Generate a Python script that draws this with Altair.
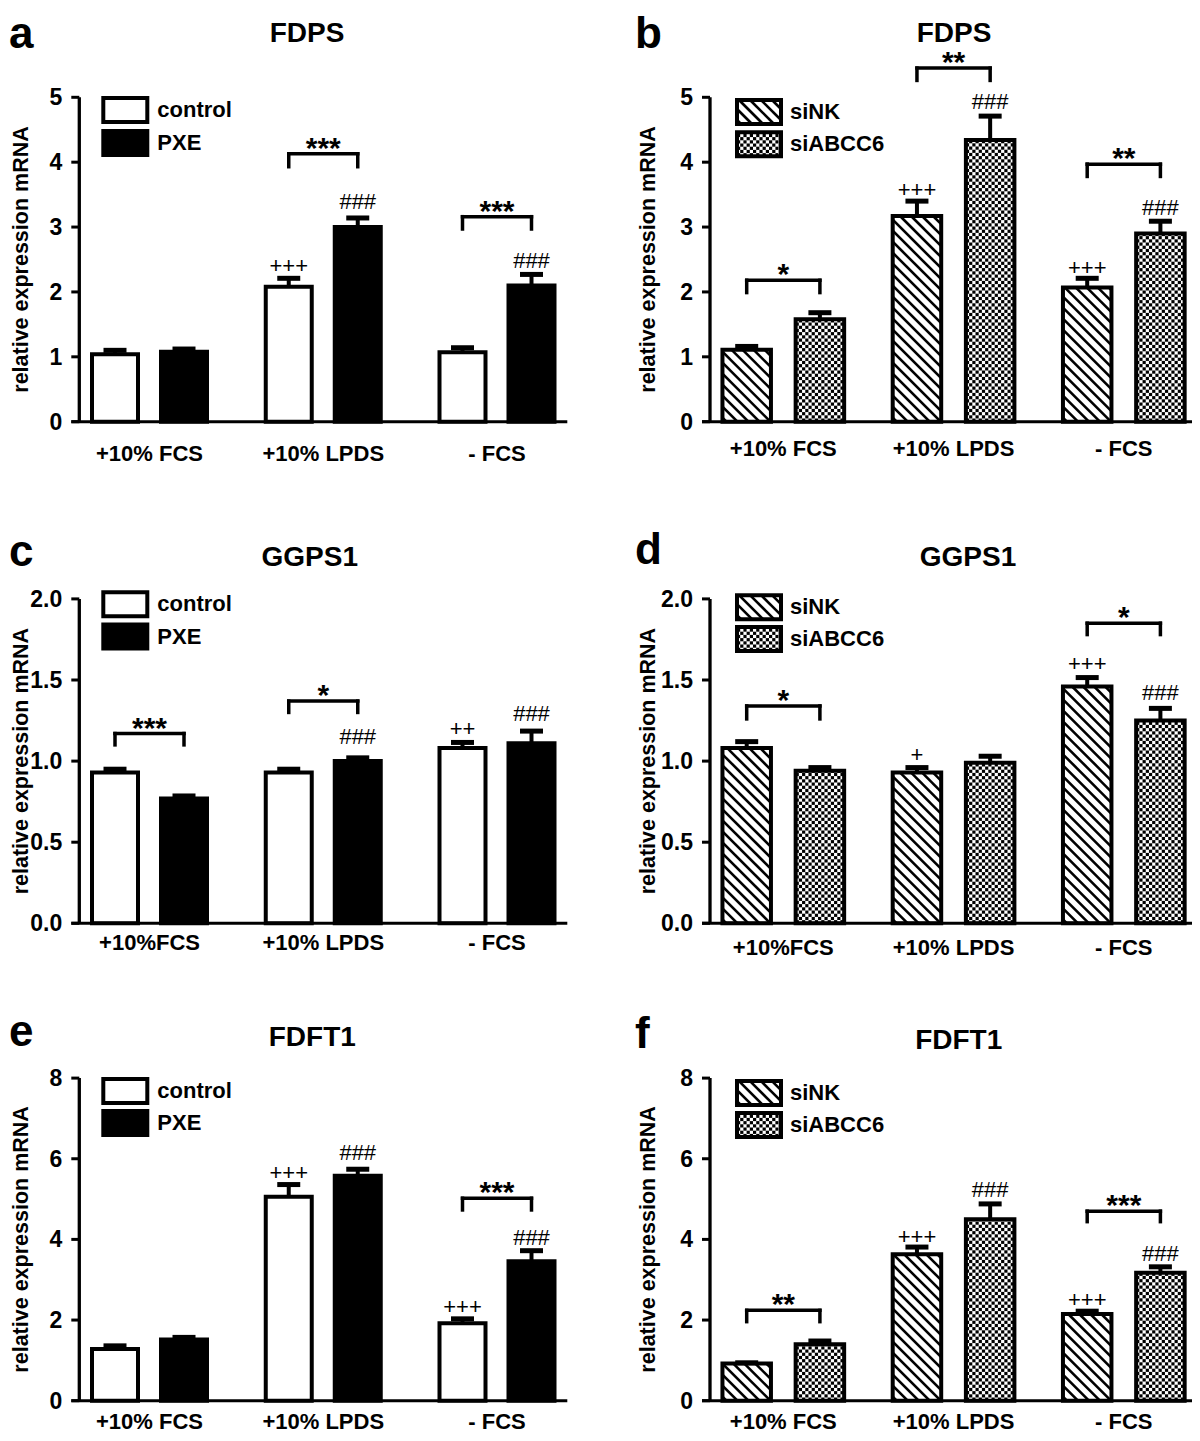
import math
import altair as alt
import pandas as pd

FONT = "Liberation Sans"

# ---------------- data ----------------
CATS_1 = ["+10% FCS", "+10% LPDS", "- FCS"]
CATS_2 = ["+10%FCS", "+10% LPDS", "- FCS"]
SERIES_PXE = ["control", "PXE"]
SERIES_SI = ["siNK", "siABCC6"]
TICKS_5 = [0, 1, 2, 3, 4, 5]
TICKLAB_5 = ["0", "1", "2", "3", "4", "5"]
TICKS_2 = [0.0, 0.5, 1.0, 1.5, 2.0]
TICKLAB_2 = ["0.0", "0.5", "1.0", "1.5", "2.0"]
TICKS_8 = [0, 2, 4, 6, 8]
TICKLAB_8 = ["0", "2", "4", "6", "8"]

# a  FDPS  control / PXE
a_s1 = [1.04, 2.08, 1.07]
a_e1 = [0.06, 0.13, 0.07]
a_s2 = [1.08, 3.00, 2.10]
a_e2 = [0.04, 0.14, 0.17]
a_br_group = [1, 2]
a_br_y = [4.13, 3.16]
a_br_low = [3.93, 2.97]
a_br_txt = ["***", "***"]
a_ann_group = [1, 1, 2]
a_ann_series = [0, 1, 1]
a_ann_txt = ["+++", "###", "###"]
a_ann_y = [2.40, 3.38, 2.47]

# b  FDPS  siNK / siABCC6
b_s1 = [1.11, 3.17, 2.07]
b_e1 = [0.05, 0.23, 0.14]
b_s2 = [1.58, 4.34, 2.90]
b_e2 = [0.10, 0.37, 0.19]
b_br_group = [0, 1, 2]
b_br_y = [2.18, 5.45, 3.97]
b_br_low = [1.99, 5.26, 3.78]
b_br_txt = ["*", "**", "**"]
b_ann_group = [1, 1, 2, 2]
b_ann_series = [0, 1, 0, 1]
b_ann_txt = ["+++", "###", "+++", "###"]
b_ann_y = [3.57, 4.93, 2.37, 3.29]

# c  GGPS1  control / PXE
c_s1 = [0.93, 0.93, 1.08]
c_e1 = [0.02, 0.02, 0.035]
c_s2 = [0.77, 1.00, 1.11]
c_e2 = [0.015, 0.02, 0.075]
c_br_group = [0, 1]
c_br_y = [1.17, 1.37]
c_br_low = [1.10, 1.30]
c_br_txt = ["***", "*"]
c_ann_group = [1, 2, 2]
c_ann_series = [1, 0, 1]
c_ann_txt = ["###", "++", "###"]
c_ann_y = [1.15, 1.20, 1.29]

# d  GGPS1  siNK / siABCC6
d_s1 = [1.08, 0.93, 1.46]
d_e1 = [0.04, 0.03, 0.055]
d_s2 = [0.94, 0.99, 1.25]
d_e2 = [0.02, 0.04, 0.075]
d_br_group = [0, 2]
d_br_y = [1.34, 1.85]
d_br_low = [1.26, 1.78]
d_br_txt = ["*", "*"]
d_ann_group = [1, 2, 2]
d_ann_series = [0, 0, 1]
d_ann_txt = ["+", "+++", "###"]
d_ann_y = [1.04, 1.60, 1.42]

# e  FDFT1  control / PXE
e_s1 = [1.28, 5.06, 1.92]
e_e1 = [0.08, 0.30, 0.11]
e_s2 = [1.52, 5.58, 3.46]
e_e2 = [0.05, 0.16, 0.26]
e_br_group = [2]
e_br_y = [5.02]
e_br_low = [4.73]
e_br_txt = ["***"]
e_ann_group = [1, 1, 2, 2]
e_ann_series = [0, 1, 0, 1]
e_ann_txt = ["+++", "###", "+++", "###"]
e_ann_y = [5.64, 6.14, 2.32, 4.04]

# f  FDFT1  siNK / siABCC6
f_s1 = [0.92, 3.63, 2.15]
f_e1 = [0.02, 0.18, 0.07]
f_s2 = [1.40, 4.50, 3.17]
f_e2 = [0.08, 0.38, 0.15]
f_br_group = [0, 2]
f_br_y = [2.24, 4.70]
f_br_low = [1.96, 4.44]
f_br_txt = ["**", "***"]
f_ann_group = [1, 1, 2, 2]
f_ann_series = [0, 1, 0, 1]
f_ann_txt = ["+++", "###", "+++", "###"]
f_ann_y = [4.06, 5.23, 2.49, 3.65]

PANELS = [
    dict(letter="a", title="FDPS", kind="L", row=1, cats=CATS_1, series=SERIES_PXE,
         s1=a_s1, e1=a_e1, s2=a_s2, e2=a_e2, ymax=5, ticks=TICKS_5, ticklab=TICKLAB_5,
         brg=a_br_group, bry=a_br_y, brl=a_br_low, brt=a_br_txt,
         ang=a_ann_group, ans=a_ann_series, ant=a_ann_txt, any=a_ann_y),
    dict(letter="b", title="FDPS", kind="R", row=1, cats=CATS_1, series=SERIES_SI,
         s1=b_s1, e1=b_e1, s2=b_s2, e2=b_e2, ymax=5, ticks=TICKS_5, ticklab=TICKLAB_5,
         brg=b_br_group, bry=b_br_y, brl=b_br_low, brt=b_br_txt,
         ang=b_ann_group, ans=b_ann_series, ant=b_ann_txt, any=b_ann_y),
    dict(letter="c", title="GGPS1", kind="L", row=2, cats=CATS_2, series=SERIES_PXE,
         s1=c_s1, e1=c_e1, s2=c_s2, e2=c_e2, ymax=2.0, ticks=TICKS_2, ticklab=TICKLAB_2,
         brg=c_br_group, bry=c_br_y, brl=c_br_low, brt=c_br_txt,
         ang=c_ann_group, ans=c_ann_series, ant=c_ann_txt, any=c_ann_y),
    dict(letter="d", title="GGPS1", kind="R", row=2, cats=CATS_2, series=SERIES_SI,
         s1=d_s1, e1=d_e1, s2=d_s2, e2=d_e2, ymax=2.0, ticks=TICKS_2, ticklab=TICKLAB_2,
         brg=d_br_group, bry=d_br_y, brl=d_br_low, brt=d_br_txt,
         ang=d_ann_group, ans=d_ann_series, ant=d_ann_txt, any=d_ann_y),
    dict(letter="e", title="FDFT1", kind="L", row=3, cats=CATS_1, series=SERIES_PXE,
         s1=e_s1, e1=e_e1, s2=e_s2, e2=e_e2, ymax=8, ticks=TICKS_8, ticklab=TICKLAB_8,
         brg=e_br_group, bry=e_br_y, brl=e_br_low, brt=e_br_txt,
         ang=e_ann_group, ans=e_ann_series, ant=e_ann_txt, any=e_ann_y),
    dict(letter="f", title="FDFT1", kind="R", row=3, cats=CATS_1, series=SERIES_SI,
         s1=f_s1, e1=f_e1, s2=f_s2, e2=f_e2, ymax=8, ticks=TICKS_8, ticklab=TICKLAB_8,
         brg=f_br_group, bry=f_br_y, brl=f_br_low, brt=f_br_txt,
         ang=f_ann_group, ans=f_ann_series, ant=f_ann_txt, any=f_ann_y),
]

# ---------------- layout / style ----------------
SIDE = {
    "L": dict(W=488, c0=70.2, sp=173.75, off=34.5, bw=46.0, legx=24.0, legtx=78.0, yt=-51.5),
    "R": dict(W=487, c0=73.3, sp=170.25, off=36.6, bw=48.5, legx=27.0, legtx=80.0, yt=-55.0),
}
ROW = {1: dict(H=324.4, extra=0.0), 2: dict(H=346.6, extra=22.2), 3: dict(H=322.6, extra=0.0)}
POS = {
    "a": dict(lx=-70.3, ly=-49.3, tx=227.7, ty=-55.3, leg=[0.7, 33.7], lab=39.0),
    "b": dict(lx=-75.0, ly=-49.3, tx=244.0, ty=-55.3, leg=[2.7, 35.0], lab=34.0),
    "c": dict(lx=-70.3, ly=-33.3, tx=230.5, ty=-33.3, leg=[-6.6, 25.7], lab=27.0),
    "d": dict(lx=-75.0, ly=-35.3, tx=258.0, ty=-33.3, leg=[-3.7, 28.0], lab=31.7),
    "e": dict(lx=-70.3, ly=-32.0, tx=233.0, ty=-32.0, leg=[1.0, 33.0], lab=28.0),
    "f": dict(lx=-75.0, ly=-30.0, tx=248.7, ty=-29.0, leg=[3.0, 35.0], lab=28.0),
}
HATCH_D = 11.0
CELL = 3.2


def hatch_px(ua, ub, wa, wb, d=HATCH_D):
    segs = []
    h = wb - wa
    s = ua + 4.0
    while s < ub + h:
        u1 = max(ua, s - h)
        u2 = min(ub, s)
        if u2 - u1 > 0.3:
            segs.append((u1, wa + s - u1, u2, wa + s - u2))
        s += d
    return segs


def checker_px(ua, ub, wa, wb, c=CELL):
    out = []
    ncol = int(math.ceil((ub - ua) / c - 1e-9))
    nrow = int(math.ceil((wb - wa) / c - 1e-9))
    for i in range(ncol):
        for j in range(nrow):
            if (i + j) % 2 == 0:
                out.append((ua + i * c, wa + j * c, min(ua + (i + 1) * c, ub), min(wa + (j + 1) * c, wb)))
    return out


ONE = pd.DataFrame({"d": [0]})


def build(p):
    side = SIDE[p["kind"]]
    row = ROW[p["row"]]
    pos = POS[p["letter"]]
    W, H, extra = side["W"], row["H"], row["extra"]
    sp, c0 = side["sp"], side["c0"]
    xlo, xhi = -c0 / sp, (W - c0) / sp
    ky = (H - extra) / p["ymax"]
    ydom = H / ky
    xs = alt.Scale(domain=[xlo, xhi], nice=False, zero=False)
    ys = alt.Scale(domain=[0, ydom], nice=False, zero=False)
    off = side["off"] / sp
    hw = side["bw"] / 2 / sp
    cap = 11.5 / sp
    left = p["kind"] == "L"

    def xd(u):
        return round(xlo + u / sp, 5)

    def yd(w):
        return round(w / ky, 5)

    def X(f):
        return alt.X(f, type="quantitative", scale=xs, axis=None)

    def Y(f):
        return alt.Y(f, type="quantitative", scale=ys, axis=None)

    # bars
    rows = []
    for k, (vals, errs) in enumerate([(p["s1"], p["e1"]), (p["s2"], p["e2"])]):
        for g in range(3):
            xc = g + (2 * k - 1) * off
            rows.append(dict(g=g, k=k, xc=xc, x0=xc - hw, x1=xc + hw, v=vals[g],
                             top=vals[g] + errs[g], cl=xc - cap, cr=xc + cap, base=0.0,
                             fill=("black" if (left and k == 1) else "white")))
    bars = pd.DataFrame(rows)

    # legend boxes (pixel positions inside the panel)
    leg_boxes = []
    for t in pos["leg"]:
        y1 = extra + t
        leg_boxes.append((side["legx"], y1, side["legx"] + 44.0, y1 + 24.0))

    # patterns for the siRNA panels (bars + legend boxes)
    hatch_rows, cell_rows = [], []
    if not left:
        rects = []
        for _, r in bars.iterrows():
            rects.append((int(r.k), (r.x0 - xlo) * sp, (r.x1 - xlo) * sp, 0.0, r.v * ky))
        for i, (bx1, by1, bx2, by2) in enumerate(leg_boxes):
            rects.append((i, bx1, bx2, H - by2, H - by1))
        for k, ua, ub, wa, wb in rects:
            if k == 0:
                for s in hatch_px(ua, ub, wa, wb):
                    hatch_rows.append(dict(xa=xd(s[0]), ya=yd(s[1]), xb=xd(s[2]), yb=yd(s[3])))
            else:
                for c in checker_px(ua, ub, wa, wb):
                    cell_rows.append(dict(xa=xd(c[0]), ya=yd(c[1]), xb=xd(c[2]), yb=yd(c[3])))

    # brackets
    br = pd.DataFrame(dict(g=p["brg"], yl=p["bry"], ylow=p["brl"], txt=p["brt"]))
    br["xl"] = br["g"] - off
    br["xr"] = br["g"] + off
    br_v = pd.concat([br.assign(x=br["xl"]), br.assign(x=br["xr"])], ignore_index=True)

    ann = pd.DataFrame(dict(g=p["ang"], k=p["ans"], txt=p["ant"], y=p["any"]))
    ann["xc"] = ann["g"] + (2 * ann["k"] - 1) * off

    axl = pd.DataFrame({"y0": [0.0], "y1": [float(p["ymax"])]})
    yt = pd.DataFrame({"tv": p["ticks"], "lab": p["ticklab"]})
    xt = pd.DataFrame({"g": [0, 1, 2], "lab": p["cats"]})

    layers = []
    layers.append(alt.Chart(bars).mark_rect(stroke="black", strokeWidth=4).encode(
        x=X("x0"), x2="x1", y=Y("base"), y2="v", fill=alt.Fill("fill:N", scale=None)))
    # legend boxes (fill + outline)
    fills = ["white", "black"] if left else ["white", "white"]
    for i, (bx1, by1, bx2, by2) in enumerate(leg_boxes):
        layers.append(alt.Chart(ONE).mark_rect(fill=fills[i], stroke="black", strokeWidth=4).encode(
            x=alt.value(bx1), x2=alt.value(bx2), y=alt.value(by1), y2=alt.value(by2)))
        layers.append(alt.Chart(ONE).mark_text(text=p["series"][i], font=FONT, fontSize=22, fontWeight="bold",
                                               align="left", baseline="middle", color="black").encode(
            x=alt.value(side["legtx"]), y=alt.value((by1 + by2) / 2)))
    if hatch_rows:
        layers.append(alt.Chart(pd.DataFrame(hatch_rows)).mark_rule(color="black", strokeWidth=2.6).encode(
            x=X("xa"), x2="xb", y=Y("ya"), y2="yb"))
    if cell_rows:
        layers.append(alt.Chart(pd.DataFrame(cell_rows)).mark_rect(color="black", strokeWidth=0).encode(
            x=X("xa"), x2="xb", y=Y("ya"), y2="yb"))
    # error bars
    layers.append(alt.Chart(bars).mark_rule(color="black", strokeWidth=4).encode(
        x=X("xc"), y=Y("v"), y2="top"))
    layers.append(alt.Chart(bars).mark_rule(color="black", strokeWidth=5).encode(
        x=X("cl"), x2="cr", y=Y("top")))
    # significance brackets
    layers.append(alt.Chart(br).mark_rule(color="black", strokeWidth=3.5, strokeCap="square").encode(
        x=X("xl"), x2="xr", y=Y("yl")))
    layers.append(alt.Chart(br_v).mark_rule(color="black", strokeWidth=3.5, strokeCap="square").encode(
        x=X("x"), y=Y("ylow"), y2="yl"))
    layers.append(alt.Chart(br).mark_text(font=FONT, fontSize=30, fontWeight="bold", baseline="middle",
                                          dy=-5, color="black").encode(
        x=X("g"), y=Y("yl"), text="txt:N"))
    layers.append(alt.Chart(ann).mark_text(font=FONT, fontSize=22, baseline="middle", color="black").encode(
        x=X("xc"), y=Y("y"), text="txt:N"))
    # axes
    layers.append(alt.Chart(axl).mark_rule(color="black", strokeWidth=3.3).encode(
        x=alt.value(0), y=Y("y0"), y2="y1"))
    layers.append(alt.Chart(axl).mark_rule(color="black", strokeWidth=3).encode(
        x=alt.value(-8), x2=alt.value(W), y=Y("y0")))
    layers.append(alt.Chart(yt).mark_rule(color="black", strokeWidth=3).encode(
        x=alt.value(-8), x2=alt.value(0), y=Y("tv")))
    layers.append(alt.Chart(yt).mark_text(font=FONT, fontSize=23, fontWeight="bold", align="right",
                                          baseline="middle", dy=1, color="black").encode(
        x=alt.value(-17), y=Y("tv"), text="lab:N"))
    layers.append(alt.Chart(xt).mark_text(font=FONT, fontSize=22, fontWeight="bold", align="center",
                                          baseline="alphabetic", color="black").encode(
        x=X("g"), y=alt.value(H + pos["lab"]), text="lab:N"))
    # letter, title, y title
    layers.append(alt.Chart(ONE).mark_text(text=p["letter"], font=FONT, fontSize=44, fontWeight="bold",
                                           align="left", baseline="alphabetic", color="black").encode(
        x=alt.value(pos["lx"]), y=alt.value(extra + pos["ly"])))
    layers.append(alt.Chart(ONE).mark_text(text=p["title"], font=FONT, fontSize=28, fontWeight="bold",
                                           align="center", baseline="alphabetic", color="black").encode(
        x=alt.value(pos["tx"]), y=alt.value(extra + pos["ty"])))
    layers.append(alt.Chart(ONE).mark_text(text="relative expression mRNA", font=FONT, fontSize=21.5,
                                           fontWeight="bold", angle=270, align="center",
                                           baseline="alphabetic", color="black").encode(
        x=alt.value(side["yt"]), y=alt.value(extra + (H - extra) / 2)))

    return alt.layer(*layers).properties(width=W, height=H)


charts = [build(p) for p in PANELS]
chart = alt.concat(*charts, columns=2, spacing={"row": 154.4, "column": 142.7}, bounds="flush").properties(
    autosize=alt.AutoSizeParams(type="none"),
    padding={"left": 71.3, "top": 89.3, "right": 1112.7, "bottom": 1335.7},
).configure_view(strokeWidth=0)

chart.save("out.html", embed_options={"renderer": "svg", "actions": False})
